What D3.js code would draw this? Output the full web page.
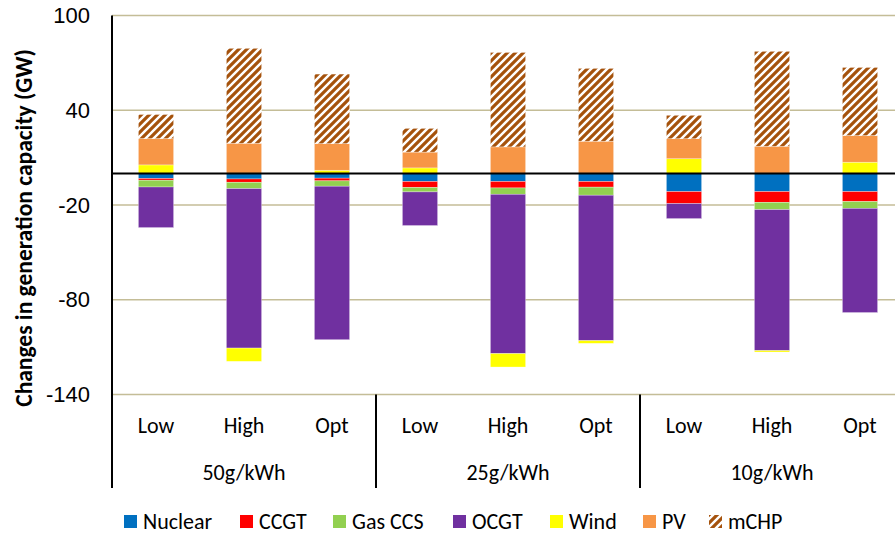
<!DOCTYPE html>
<html>
<head>
<meta charset="utf-8">
<script src="https://cdn.jsdelivr.net/npm/d3@7"></script>
<style>
  body { margin: 0; background: #fff; }
  svg { display: block; font-family: Carlito, Lato, "Open Sans", sans-serif; }
</style>
</head>
<body>
<div id="chart"></div>
<script>
// Datos (GW)
const groups = ["50g/kWh", "25g/kWh", "10g/kWh"];
const levels = ["Low", "High", "Opt"];
const seriesNames = ["Nuclear", "CCGT", "Gas CCS", "OCGT", "Wind", "PV", "mCHP"];
const seriesColors = ["#0070c0", "#ff0000", "#92d050", "#7030a0", "#ffff00", "#f79646", "url(#mchpPattern)"];
const yTicks = [100, 40, -20, -80, -140];

// un valor por barra: 50g Low, High, Opt, 25g Low, High, Opt, 10g Low, High, Opt
const nuclear = [-3.2, -3.5, -3.0, -5.1, -5.1, -5.1, -11.5, -11.5, -11.5];
const ccgt    = [-1.1, -2.1, -1.7, -3.8, -4.1, -3.6, -7.6, -6.8, -6.3];
const gasCcs  = [-4.3, -4.0, -3.4, -2.8, -4.0, -5.1, 0, -4.6, -4.3];
const ocgt    = [-25.7, -101.0, -97.2, -21.3, -100.9, -92.1, -9.5, -89.3, -66.0];
const wind    = [5.4, -8.4, 2.0, 3.5, -8.5, -1.7, 9.3, -0.9, 7.1];
const pv      = [16.7, 19.1, 16.9, 10.0, 16.8, 20.4, 12.7, 17.2, 16.9];
const mchp    = [15.2, 60.1, 44.0, 15.0, 59.8, 46.1, 14.8, 60.1, 43.1];

const seriesValues = [nuclear, ccgt, gasCcs, ocgt, wind, pv, mchp];

// Construir tabla para d3.stack
const rows = [];
groups.forEach((g, gi) => {
    levels.forEach((l, li) => {
        const i = gi * levels.length + li;
        const row = { key: g + "|" + l, group: g, level: l };
        seriesNames.forEach((s, si) => { row[s] = seriesValues[si][i]; });
        rows.push(row);
    });
});

const width = 895, height = 535;
const plot = { left: 112, right: 904, top: 15.5, bottom: 394.5, axisEnd: 488 };
const fontSize = "22px";

const svg = d3.select("#chart").append("svg")
    .attr("width", width)
    .attr("height", height);

// Patrón de rayas diagonales para mCHP
const defs = svg.append("defs");
const pat = defs.append("pattern")
    .attr("id", "mchpPattern")
    .attr("patternUnits", "userSpaceOnUse")
    .attr("width", 8)
    .attr("height", 8);
pat.append("rect").attr("width", 8).attr("height", 8).attr("fill", "#fff");
pat.append("path")
    .attr("d", "M-2,2 L2,-2 M0,8 L8,0 M6,10 L10,6")
    .attr("stroke", "#a5520c")
    .attr("stroke-width", 3.2);

// Escalas
const x = d3.scaleBand()
    .domain(rows.map(d => d.key))
    .range([plot.left, plot.right])
    .paddingInner(0.6)
    .paddingOuter(0.3);

const gx = d3.scaleBand()
    .domain(groups)
    .range([plot.left, plot.right]);

const y = d3.scaleLinear()
    .domain([-140, 100])
    .range([plot.bottom, plot.top]);

// Líneas de cuadrícula
svg.append("g")
    .selectAll("line")
    .data(yTicks)
    .join("line")
    .attr("x1", plot.left)
    .attr("x2", plot.right)
    .attr("y1", d => y(d))
    .attr("y2", d => y(d))
    .attr("stroke", "#c4bd97")
    .attr("stroke-width", 1.5);

// Eje Y (guion normal en los negativos, como en el original)
const yAxis = svg.append("g")
    .attr("transform", `translate(${plot.left},0)`)
    .call(d3.axisLeft(y).tickValues(yTicks).tickFormat(d => String(d)).tickSize(0).tickPadding(22));
yAxis.select(".domain").remove();
yAxis.selectAll("text")
    .attr("font-size", fontSize)
    .attr("font-family", null)
    .attr("fill", "#000");

// Barras apiladas
const stack = d3.stack()
    .keys(seriesNames)
    .offset(d3.stackOffsetDiverging);
const stacked = stack(rows);

svg.append("g")
    .selectAll("g")
    .data(stacked)
    .join("g")
    .attr("fill", (d, i) => seriesColors[i])
    .selectAll("rect")
    .data(d => d)
    .join("rect")
    .attr("x", d => x(d.data.key))
    .attr("width", x.bandwidth())
    .attr("y", d => y(Math.max(d[0], d[1])))
    .attr("height", d => Math.abs(y(d[0]) - y(d[1])))
    .attr("stroke", "#fff")
    .attr("stroke-opacity", 0.5)
    .attr("stroke-width", 0.6);

// Línea del cero
svg.append("line")
    .attr("x1", plot.left)
    .attr("x2", plot.right)
    .attr("y1", y(0))
    .attr("y2", y(0))
    .attr("stroke", "#000")
    .attr("stroke-width", 2);

// Eje vertical y separadores de grupos
svg.append("line")
    .attr("x1", plot.left).attr("x2", plot.left)
    .attr("y1", plot.top).attr("y2", plot.axisEnd)
    .attr("stroke", "#000")
    .attr("stroke-width", 2);

svg.append("g")
    .selectAll("line")
    .data(groups.slice(1))
    .join("line")
    .attr("x1", d => gx(d))
    .attr("x2", d => gx(d))
    .attr("y1", plot.bottom)
    .attr("y2", plot.axisEnd)
    .attr("stroke", "#000")
    .attr("stroke-width", 2);

// Etiquetas de categoría
svg.append("g")
    .selectAll("text")
    .data(rows)
    .join("text")
    .attr("x", d => x(d.key) + x.bandwidth() / 2)
    .attr("y", 433)
    .attr("text-anchor", "middle")
    .attr("font-size", fontSize)
    .text(d => d.level);

svg.append("g")
    .selectAll("text")
    .data(groups)
    .join("text")
    .attr("x", d => gx(d) + gx.bandwidth() / 2)
    .attr("y", 480)
    .attr("text-anchor", "middle")
    .attr("font-size", fontSize)
    .text(d => d);

// Título del eje Y
svg.append("text")
    .attr("transform", "translate(32,228) rotate(-90)")
    .attr("text-anchor", "middle")
    .attr("font-size", "23.5px")
    .attr("font-weight", "bold")
    .text("Changes in generation capacity (GW)");

// Leyenda
const legendX = [124, 240, 333, 453, 550, 643, 709];
const legend = svg.append("g")
    .selectAll("g")
    .data(seriesNames)
    .join("g")
    .attr("transform", (d, i) => `translate(${legendX[i]},515)`);
legend.append("rect")
    .attr("width", 13)
    .attr("height", 13)
    .attr("fill", (d, i) => seriesColors[i]);
legend.append("text")
    .attr("x", 19)
    .attr("y", 14)
    .attr("font-size", fontSize)
    .text(d => d);
</script>
</body>
</html>
